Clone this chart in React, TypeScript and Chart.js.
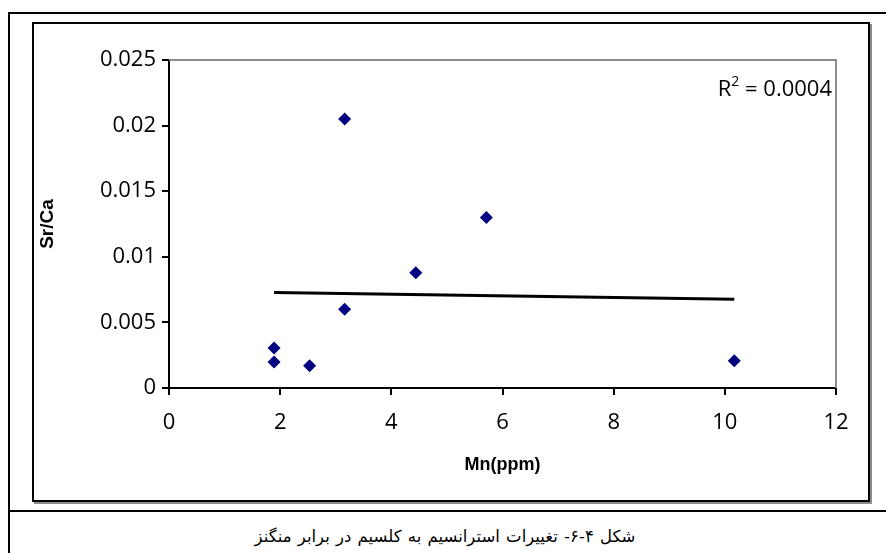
import React, { useEffect, useRef } from "react";
import { Chart, registerables } from "chart.js";

Chart.register(...registerables);

// Data
const mnPpm = [1.89, 1.89, 2.53, 3.16, 3.16, 4.44, 5.71, 10.17];
const srCa = [0.00305, 0.00198, 0.0017, 0.0205, 0.006, 0.00879, 0.013, 0.00208];
const rSquaredText = "0.0004";
const xTitle = "Mn(ppm)";
const yTitle = "Sr/Ca";
const caption = "شکل ۴-۶- تغییرات استرانسیم به کلسیم در برابر منگنز";
const xTicksRange = [0, 12, 2];
const yTicksRange = [0, 0.025, 0.005];

function linearFit(xs: number[], ys: number[]) {
  const n = xs.length;
  const mx = xs.reduce((a, b) => a + b, 0) / n;
  const my = ys.reduce((a, b) => a + b, 0) / n;
  let sxy = 0, sxx = 0;
  for (let i = 0; i < n; i++) {
    sxy += (xs[i] - mx) * (ys[i] - my);
    sxx += (xs[i] - mx) * (xs[i] - mx);
  }
  const slope = sxy / sxx;
  return { slope, intercept: my - slope * mx };
}

const tickFont = { family: "'Open Sans', sans-serif", size: 22 };
const xTitleFont = { family: "'Liberation Sans', Arial, sans-serif", size: 18, weight: "bold" as const };
const yTitleFont = { family: "'Liberation Sans', Arial, sans-serif", size: 19, weight: "bold" as const };

const framePlugin = {
  id: "frameAndLabel",
  afterDraw(chart: any) {
    const { ctx, chartArea } = chart;
    ctx.save();
    ctx.strokeStyle = "#8c8c8c";
    ctx.lineWidth = 2;
    ctx.beginPath();
    ctx.moveTo(chartArea.left, chartArea.top);
    ctx.lineTo(chartArea.right, chartArea.top);
    ctx.lineTo(chartArea.right, chartArea.bottom);
    ctx.stroke();
    // R² label
    const right = chartArea.right - 4;
    const baseline = chartArea.top + 36;
    ctx.fillStyle = "#000";
    ctx.textBaseline = "alphabetic";
    ctx.font = "22px 'Open Sans', sans-serif";
    const rest = " = " + rSquaredText;
    const wRest = ctx.measureText(rest).width;
    ctx.textAlign = "left";
    ctx.fillText(rest, right - wRest, baseline);
    ctx.font = "14px 'Open Sans', sans-serif";
    const w2 = ctx.measureText("2").width;
    ctx.fillText("2", right - wRest - w2, baseline - 10);
    ctx.font = "22px 'Open Sans', sans-serif";
    const wR = ctx.measureText("R").width;
    ctx.fillText("R", right - wRest - w2 - wR, baseline);
    ctx.restore();
  },
};

export default function App() {
  const ref = useRef<HTMLCanvasElement>(null);

  useEffect(() => {
    if (!ref.current) return;
    const fit = linearFit(mnPpm, srCa);
    const xMin = Math.min(...mnPpm);
    const xMax = Math.max(...mnPpm);
    const chart = new Chart(ref.current, {
      type: "scatter",
      data: {
        datasets: [
          {
            type: "scatter",
            data: mnPpm.map((x, i) => ({ x, y: srCa[i] })),
            pointStyle: "rectRot",
            pointRadius: 6.5,
            backgroundColor: "#000080",
            borderColor: "#000080",
            borderWidth: 0,
            order: 1,
          },
          {
            type: "line",
            data: [
              { x: xMin, y: fit.intercept + fit.slope * xMin },
              { x: xMax, y: fit.intercept + fit.slope * xMax },
            ],
            borderColor: "#000",
            borderWidth: 3,
            pointRadius: 0,
            order: 2,
          } as any,
        ],
      },
      options: {
        animation: false,
        responsive: false,
        maintainAspectRatio: false,
        layout: { padding: { left: 0, top: 36, right: 32, bottom: 0 } },
        plugins: { legend: { display: false }, tooltip: { enabled: false } },
        scales: {
          x: {
            type: "linear",
            min: xTicksRange[0],
            max: xTicksRange[1],
            ticks: { stepSize: xTicksRange[2], color: "#000", font: tickFont, padding: 15, maxRotation: 0 },
            grid: { drawOnChartArea: false, drawTicks: true, tickLength: 7, color: "#000", lineWidth: 2 },
            border: { display: true, color: "#000", width: 2 },
            title: { display: true, text: xTitle, color: "#000", font: xTitleFont, padding: { top: 0, bottom: 24 } },
            afterFit: (s: any) => { s.height = 112; },
          },
          y: {
            type: "linear",
            min: yTicksRange[0],
            max: yTicksRange[1],
            ticks: {
              stepSize: yTicksRange[2],
              color: "#000",
              font: tickFont,
              padding: 6,
              callback: (v: any) => String(parseFloat(Number(v).toFixed(3))),
            },
            grid: { drawOnChartArea: false, drawTicks: true, tickLength: 7, color: "#000", lineWidth: 2 },
            border: { display: true, color: "#000", width: 2 },
            title: { display: true, text: yTitle, color: "#000", font: yTitleFont, padding: { top: 2, bottom: 0 } },
            afterFit: (s: any) => { s.width = 135; },
          },
        },
      },
      plugins: [framePlugin],
    });
    return () => chart.destroy();
  }, []);

  return (
    <div style={{ position: "absolute", left: 0, top: 0, width: 886, height: 553, background: "#fff", overflow: "hidden" }}>
      <div style={{ position: "absolute", left: 8, top: 12, width: 878, height: 2, background: "#000" }} />
      <div style={{ position: "absolute", left: 8, top: 12, width: 2, height: 541, background: "#000" }} />
      <div style={{ position: "absolute", left: 8, top: 510, width: 878, height: 2, background: "#000" }} />
      <div
        style={{
          position: "absolute",
          left: 32,
          top: 22,
          width: 838,
          height: 480,
          border: "2px solid #000",
          boxSizing: "border-box",
          boxShadow: "2px 2px 0 #8c8c8c",
        }}
      />
      <canvas ref={ref} width={834} height={476} style={{ position: "absolute", left: 34, top: 24, width: 834, height: 476 }} />
      <div
        dir="rtl"
        style={{
          position: "absolute",
          left: 8,
          top: 522,
          width: 874,
          height: 30,
          lineHeight: "30px",
          textAlign: "center",
          direction: "rtl",
          fontFamily: "'DejaVu Sans', sans-serif",
          fontSize: 16.5,
          color: "#000",
          wordSpacing: 1,
        }}
      >
        {caption}
      </div>
    </div>
  );
}
